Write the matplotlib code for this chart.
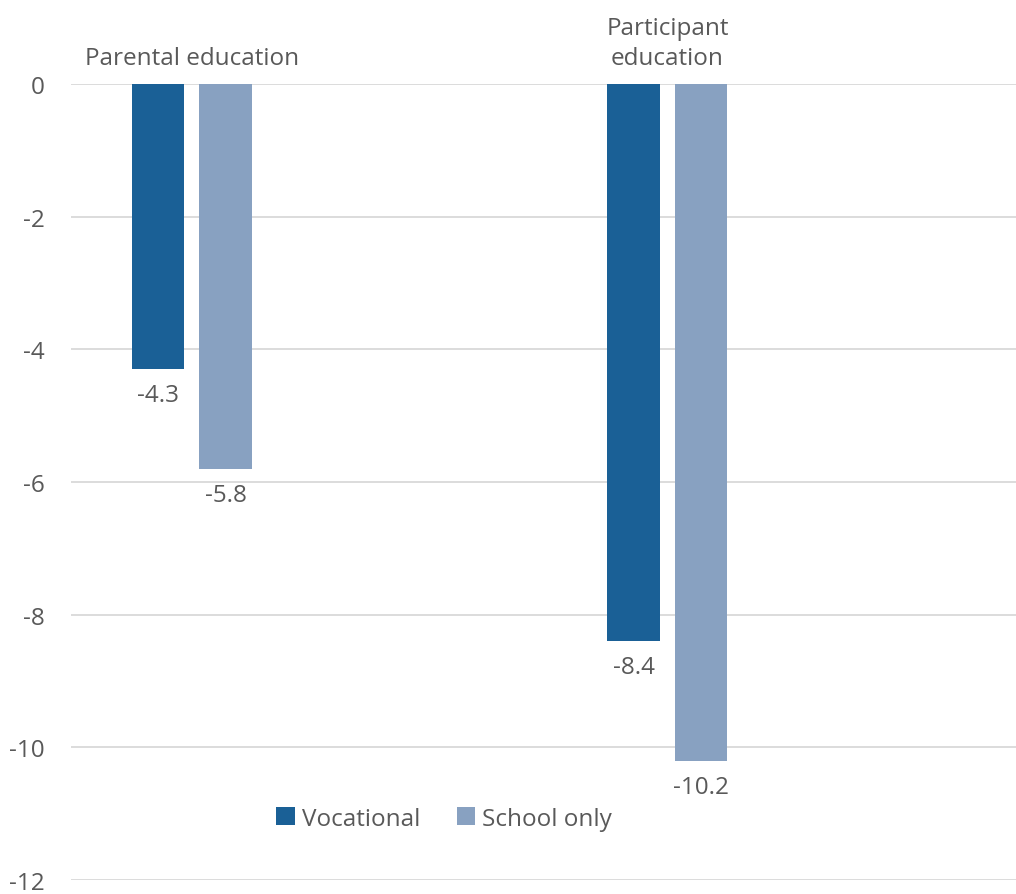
import numpy as np
import matplotlib.pyplot as plt

# values
categories = ['Parental education', 'Participant\neducation']
series_names = ['Vocational', 'School only']
vocational = [-4.3, -8.4]
school_only = [-5.8, -10.2]
yticks = [0, -2, -4, -6, -8, -10, -12]

colors = ['#1A6096', '#88A1C1']
text_color = '#595959'

plt.rcParams['font.family'] = ['Open Sans', 'DejaVu Sans']

fig = plt.figure(figsize=(10.16, 8.95), dpi=100)
ax = fig.add_axes([0.0699, 0.0156, 0.9301, 0.8894])

x = np.arange(len(categories))
width = 0.11
offset = 0.071
fs = 17.5

for vals, name, col, off in zip([vocational, school_only], series_names, colors, [-offset, offset]):
    bars = ax.bar(x + off, vals, width, color=col, label=name, zorder=3)
    for b, v in zip(bars, vals):
        ax.annotate(f'{v}', (b.get_x() + b.get_width() / 2, v),
                    xytext=(0, -10), textcoords='offset points',
                    ha='center', va='top', fontsize=fs, color=text_color)

# category labels sit above the plot
for xi, cat in zip(x, categories):
    ax.annotate(cat, (xi, 0), xytext=(0, 10), textcoords='offset points',
                ha='center', va='bottom', fontsize=fs, color=text_color,
                linespacing=1.35, annotation_clip=False)

ax.set_ylim(-12, 0)
ax.set_xlim(-0.254, 1.733)
ax.set_yticks(yticks)
ax.set_yticklabels([str(t) for t in yticks], fontsize=fs, color=text_color)
ax.tick_params(axis='y', length=0, pad=19)
ax.set_xticks([])
for s in ax.spines.values():
    s.set_visible(False)
ax.grid(axis='y', color='#D9D9D9', linewidth=1.3, zorder=0)
ax.set_axisbelow(True)

ax.legend(loc='center', bbox_to_anchor=(0.395, 0.077), ncol=2, frameon=False,
          fontsize=fs, labelcolor=text_color, handlelength=0.75, handleheight=0.75,
          handletextpad=0.3, columnspacing=1.5)

fig.savefig('out.png', dpi=100)
